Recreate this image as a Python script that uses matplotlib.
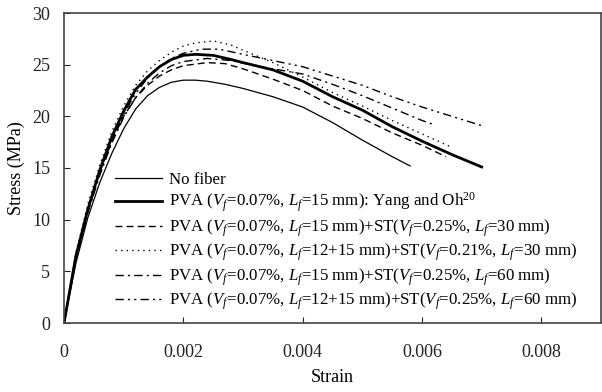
import matplotlib
matplotlib.use('Agg')
import matplotlib.pyplot as plt

plt.rcParams['font.family'] = 'Liberation Serif'
plt.rcParams['mathtext.fontset'] = 'custom'
plt.rcParams['mathtext.rm'] = 'Liberation Serif'
plt.rcParams['mathtext.it'] = 'Liberation Serif:italic'

# stress-strain curves
nofiber_x = [0, 0.0002, 0.0004, 0.0006, 0.0008, 0.001, 0.0012, 0.0014, 0.0016, 0.0018, 0.002,
             0.0022, 0.0024, 0.0027, 0.003, 0.0035, 0.004, 0.0045, 0.005, 0.0055, 0.0058]
nofiber_y = [0, 5.8, 10.2, 13.6, 16.4, 18.8, 20.7, 22.0, 22.8, 23.3, 23.5,
             23.5, 23.4, 23.1, 22.7, 21.9, 20.9, 19.4, 17.7, 16.1, 15.2]

yang_x = [0, 0.0002, 0.0004, 0.0006, 0.0008, 0.001, 0.0012, 0.0014, 0.0016, 0.0018, 0.002,
          0.0022, 0.0025, 0.0028, 0.003, 0.0035, 0.004, 0.0045, 0.005, 0.0055, 0.006, 0.0065, 0.007]
yang_y = [0, 6.5, 11.0, 14.8, 18.0, 20.5, 22.6, 23.8, 24.8, 25.5, 25.9,
          26.0, 25.9, 25.5, 25.2, 24.5, 23.4, 21.9, 20.6, 19.0, 17.6, 16.3, 15.1]

st30_x = [0, 0.0002, 0.0004, 0.0006, 0.0008, 0.001, 0.0012, 0.0014, 0.0016, 0.0018, 0.002,
          0.0024, 0.0027, 0.003, 0.0035, 0.004, 0.0045, 0.005, 0.0055, 0.006, 0.0064]
st30_y = [0, 6.4, 11.0, 14.6, 17.6, 20.0, 21.8, 23.0, 23.9, 24.5, 24.9,
          25.2, 25.1, 24.6, 23.6, 22.5, 21.0, 19.8, 18.4, 17.2, 16.1]

st30b_x = [0, 0.0002, 0.0004, 0.0006, 0.0008, 0.001, 0.0012, 0.0014, 0.0016, 0.0018, 0.002,
           0.0022, 0.0025, 0.0028, 0.003, 0.0035, 0.004, 0.0045, 0.005, 0.0055, 0.006, 0.0065]
st30b_y = [0, 6.8, 11.5, 15.3, 18.5, 21.0, 23.0, 24.4, 25.4, 26.2, 26.8,
           27.1, 27.3, 26.9, 26.4, 25.2, 23.8, 22.3, 21.0, 19.6, 18.3, 17.0]

st60_x = [0, 0.0002, 0.0004, 0.0006, 0.0008, 0.001, 0.0012, 0.0014, 0.0016, 0.0018, 0.002,
          0.0024, 0.0028, 0.0032, 0.0036, 0.004, 0.0045, 0.005, 0.0055, 0.006, 0.0062]
st60_y = [0, 6.2, 10.7, 14.3, 17.4, 19.9, 21.8, 23.2, 24.2, 24.9, 25.3,
          25.6, 25.4, 24.9, 24.5, 24.1, 23.1, 22.0, 20.8, 19.6, 19.2]

st60b_x = [0, 0.0002, 0.0004, 0.0006, 0.0008, 0.001, 0.0012, 0.0014, 0.0016, 0.0018, 0.002,
           0.0023, 0.0026, 0.003, 0.0035, 0.004, 0.0045, 0.005, 0.0055, 0.006, 0.0065, 0.007]
st60b_y = [0, 6.3, 10.8, 14.5, 17.6, 20.2, 22.2, 23.7, 24.8, 25.6, 26.1,
           26.5, 26.5, 26.0, 25.4, 24.8, 23.9, 23.0, 21.9, 20.9, 20.0, 19.1]

labels = [
    'No fiber',
    'PVA ($V_f$=0.07%, $L_f$=15 mm): Yang and Oh$^{20}$',
    'PVA ($V_f$=0.07%, $L_f$=15 mm)+ST($V_f$=0.25%, $L_f$=30 mm)',
    'PVA ($V_f$=0.07%, $L_f$=12+15 mm)+ST($V_f$=0.21%, $L_f$=30 mm)',
    'PVA ($V_f$=0.07%, $L_f$=15 mm)+ST($V_f$=0.25%, $L_f$=60 mm)',
    'PVA ($V_f$=0.07%, $L_f$=12+15 mm)+ST($V_f$=0.25%, $L_f$=60 mm)',
]

xticks = [0, 0.002, 0.004, 0.006, 0.008]
xticklabels = ['0', '0.002', '0.004', '0.006', '0.008']
yticks = [0, 5, 10, 15, 20, 25, 30]

fig = plt.figure(figsize=(6.02, 3.92), dpi=100)
ax = fig.add_axes([64/602, 69/392, 537/602, 310/392])

ax.plot(nofiber_x, nofiber_y, color='k', lw=0.9, label=labels[0])
ax.plot(yang_x, yang_y, color='k', lw=2.0, label=labels[1])
ax.plot(st30_x, st30_y, color='k', lw=1.0, dashes=(5, 3), label=labels[2])
ax.plot(st30b_x, st30b_y, color='k', lw=1.0, dashes=(1, 3), label=labels[3])
ax.plot(st60_x, st60_y, color='k', lw=1.0, dashes=(6, 3, 1.5, 3), label=labels[4])
ax.plot(st60b_x, st60b_y, color='k', lw=1.0, dashes=(6, 3, 1.5, 3, 1.5, 3), label=labels[5])

ax.set_xlim(0, 0.009)
ax.set_ylim(0, 30)
ax.set_xticks(xticks)
ax.set_xticklabels(xticklabels)
ax.set_yticks(yticks)
ax.tick_params(direction='in', length=4, labelsize=13, colors='#222222')
ax.tick_params(axis='x', pad=15)
ax.tick_params(axis='y', pad=10)
for s in ax.spines.values():
    s.set_color('#444444')
    s.set_linewidth(1.2)

ax.set_xlabel('Strain', fontsize=13, labelpad=6)
ax.set_ylabel('Stress (MPa)', fontsize=13, labelpad=5)

ax.legend(loc='upper left', bbox_to_anchor=(0.095, 0.487), frameon=False, fontsize=12.2,
          handlelength=2.8, handletextpad=0.4, labelspacing=0.17, borderpad=0, borderaxespad=0)

plt.savefig('out.png', dpi=100)
